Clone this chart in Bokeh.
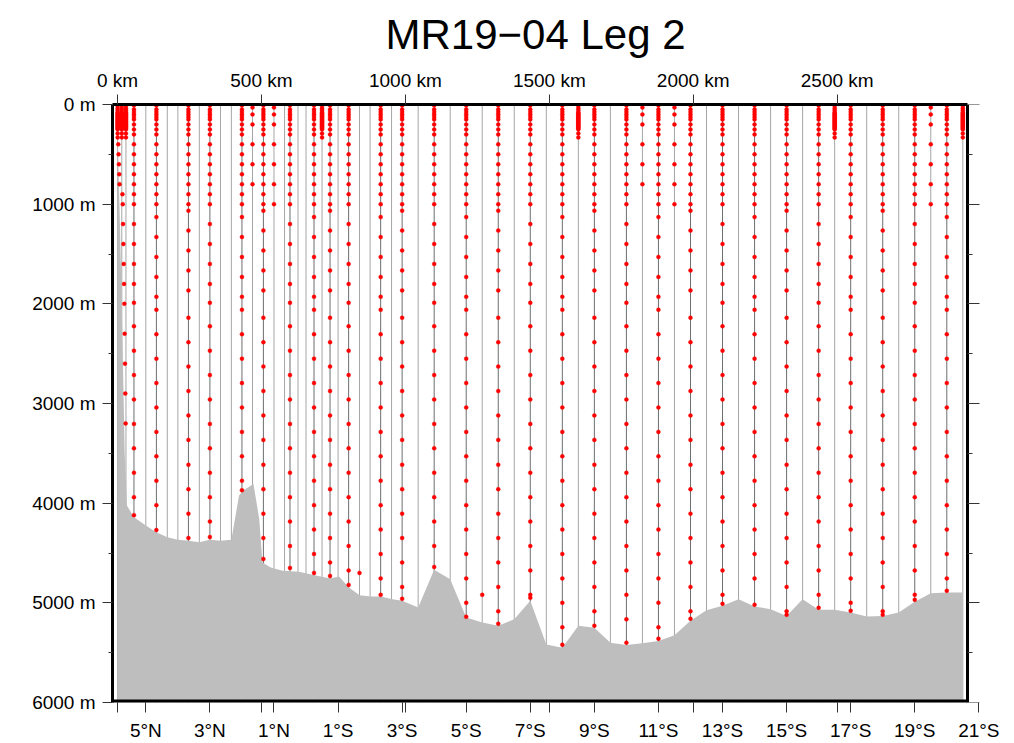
import numpy as np
from bokeh.plotting import figure
from bokeh.models import (Range1d, LinearAxis, FixedTicker, PrintfTickFormatter,
                          CustomJSTickFormatter)
from bokeh.embed import file_html
from bokeh.resources import INLINE

# ---------------- data ----------------
TITLE = "MR19\u221204 Leg 2"

# axis extents (latitude, + = N) and along-track distance mapping
LAT_LEFT, LAT_FRAME_RIGHT = 6.04, -20.64     # drawn box
LAT_CANVAS_RIGHT = -21.52                    # room for the 21°S tick past the box
LAT_AT_0KM = 5.883
KM_PER_DEG = 111.3

lat_tick_values = [5, 3, 1, -1, -3, -5, -7, -9, -11, -13, -15, -17, -19, -21]
km_tick_values = [0, 500, 1000, 1500, 2000, 2500]
depth_tick_values = [0, 1000, 2000, 3000, 4000, 5000, 6000]
depth_minor_values = [500, 1500, 2500, 3500, 4500, 5500]

# all station lines (latitude)
station_lat = [5.88, 5.75, 5.62, 5.37, 5.0, 4.67, 4.33, 4.0, 3.67, 3.33, 3.0, 2.67,
               2.33, 2.0, 1.67, 1.33, 1.0, 0.67, 0.5, 0.25, 0.0, -0.25, -0.5, -0.75,
               -1.0, -1.33, -1.67, -2.0, -2.33, -2.67, -3.0, -3.5, -4.0, -4.5, -5.0,
               -5.5, -6.0, -6.5, -7.0, -7.5, -8.0, -8.5, -9.0, -9.5, -10.0, -10.5,
               -11.0, -11.5, -12.0, -12.5, -13.0, -13.5, -14.0, -14.5, -15.0, -15.5,
               -16.0, -16.5, -17.0, -17.5, -18.0, -18.5, -19.0, -19.5, -20.0, -20.5]

# bathymetry along the section
bathy_lat = [5.88, 5.80, 5.72, 5.66, 5.59, 5.37, 5.0, 4.67, 4.33, 4.0, 3.67, 3.33,
             3.0, 2.67, 2.33, 2.09, 1.95, 1.64, 1.46, 1.36, 1.10, 0.73, 0.22, -0.27,
             -0.75, -1.03, -1.34, -1.67, -2.02, -2.33, -2.70, -3.0, -3.5, -4.0,
             -4.5, -5.0, -5.5, -6.0, -6.5, -7.0, -7.5, -8.0, -8.5, -9.0, -9.5,
             -10.0, -10.5, -11.0, -11.5, -12.0, -12.5, -13.0, -13.5, -14.0, -14.5,
             -15.0, -15.5, -16.0, -16.5, -17.0, -17.5, -18.0, -18.5, -19.0, -19.5,
             -20.0, -20.48]
bathy_depth = [300, 1300, 2500, 3490, 4024, 4142, 4225, 4293, 4342, 4366, 4376, 4393,
               4366, 4376, 4366, 3924, 3870, 3807, 4159, 4595, 4645, 4678, 4688, 4722,
               4755, 4735, 4846, 4924, 4937, 4937, 4964, 4980, 5047, 4668,
               4763, 5148, 5198, 5231, 5165, 4980, 5417, 5450, 5231, 5249, 5400,
               5423, 5406, 5382, 5326, 5181, 5075, 5030, 4964, 5037, 5064,
               5131, 4964, 5070, 5070, 5097, 5138, 5131, 5097, 4990, 4903,
               4896, 4896]

# full-depth casts: latitude, bottle-set phase, deepest bottle
full_lat = [5.37, 4.67, 3.67, 3.0, 2.0, 1.33, 0.5, -0.25, -0.75, -1.33, -2.33, -3.0,
            -4.0, -5.0, -6.0, -7.0, -8.0, -9.0, -10.0, -11.0, -12.0, -13.0, -14.0,
            -15.0, -16.0, -17.0, -18.0, -19.0, -20.0]
full_phase = ["A", "B", "C", "A", "B", "C", "A", "B", "C", "A", "B", "C",
              "A", "B", "C", "A", "B", "C", "A", "B", "C", "A", "B",
              "C", "A", "B", "C", "A", "B"]
full_bottom = [4120, 4270, 4350, 4340, 3870, 4560, 4650, 4700, 4730, 4820, 4920, 4960,
               4640, 5140, 5210, 4950, 5420, 5230, 5400, 5360, 5160, 5010, 5020,
               5120, 5050, 5080, 5120, 4970, 4880]

upper_depths = [10, 50, 75, 100, 125, 150, 200, 250, 300, 400, 500, 600, 700, 800,
                900, 1000]
deep_A = [1200, 1400, 1600, 1800, 1990, 2225, 2470, 2715, 2960, 3205, 3450, 3695,
          3940, 4185, 4430, 4675, 4920, 5165]
deep_B = [1130, 1330, 1530, 1730, 1930, 2060, 2305, 2550, 2795, 3040, 3285, 3530,
          3775, 4020, 4265, 4510, 4755, 5000, 5245]
deep_C = [1065, 1265, 1465, 1665, 1865, 2140, 2385, 2630, 2875, 3120, 3365, 3615,
          3860, 4105, 4350, 4595, 4840, 5085, 5330]

# partial casts (upper ocean only)
part_lat = [1.67, 1.0, -10.5, -11.5, -19.5]
part_maxdepth = [800, 1000, 800, 1000, 1000]
part_depths = [30, 100, 200, 400, 600, 800, 1000]

# densely sampled shallow casts
dense_lat = [5.88, 5.75, 5.62, -0.5, -8.5, -16.5, -20.5]
dense_depths = [15, 40, 60, 80, 90, 100, 110, 120, 130, 140, 150, 160, 170, 180,
                190, 200, 210, 220, 230, 240, 250, 290, 330]

# single near-bottom bottles
extra_lat = [-1.67, -5.5]
extra_depth = [4700, 4920]

# coastal slope casts below the dense part
coast_lat = [5.86, 5.85, 5.84, 5.83, 5.82, 5.73, 5.72, 5.71, 5.70, 5.69, 5.68, 5.67,
             5.66, 5.65, 5.64, 5.63]
coast_depth = [400, 500, 600, 700, 800, 900, 1000, 1200, 1400, 1600, 1800, 2000,
               2300, 2600, 2900, 3200]

# ---------------- figure ----------------
FONT = "Liberation Sans"
km_left = (LAT_AT_0KM - LAT_LEFT) * KM_PER_DEG
km_frame_right = (LAT_AT_0KM - LAT_FRAME_RIGHT) * KM_PER_DEG
km_canvas_right = (LAT_AT_0KM - LAT_CANVAS_RIGHT) * KM_PER_DEG

p = figure(width=1014, height=743, output_backend="svg", toolbar_location=None,
           x_range=Range1d(LAT_LEFT, LAT_CANVAS_RIGHT), y_range=Range1d(6000, 0),
           x_axis_location=None, y_axis_location=None,
           min_border_left=112, min_border_right=19, min_border_top=103,
           min_border_bottom=39)
p.extra_x_ranges = {"km": Range1d(km_left, km_canvas_right)}
p.grid.visible = False
p.outline_line_color = None
p.background_fill_color = "white"
p.border_fill_color = "white"

p.title.text = TITLE
p.title.text_font = FONT
p.title.text_font_size = "42px"
p.title.text_font_style = "normal"
p.title.align = "left"
p.title.offset = 273
p.title.text_color = "black"
p.title.standoff = 17


def style_axis(ax, tick_len=10, minor_len=4):
    ax.axis_line_width = 3
    ax.axis_line_color = "black"
    ax.major_tick_line_color = "#333333"
    ax.minor_tick_line_color = "#333333"
    ax.major_tick_out = tick_len
    ax.major_tick_in = 0
    ax.minor_tick_out = minor_len
    ax.minor_tick_in = 0
    ax.major_label_text_font = FONT
    ax.major_label_text_font_size = "19px"
    ax.major_label_text_font_style = "normal"
    ax.major_label_text_color = "black"
    ax.major_label_standoff = 7


left = LinearAxis(ticker=FixedTicker(ticks=depth_tick_values, minor_ticks=depth_minor_values),
                  formatter=PrintfTickFormatter(format="%d m"))
style_axis(left, 10, 4)
p.add_layout(left, "left")

right = LinearAxis(ticker=FixedTicker(ticks=depth_tick_values, minor_ticks=depth_minor_values),
                   formatter=CustomJSTickFormatter(code="return '';"),
                   fixed_location=LAT_FRAME_RIGHT)
style_axis(right, 12, 5)
p.add_layout(right, "right")

lat_fmt = "return Math.abs(tick) + '\u00b0' + (tick >= 0 ? 'N' : 'S');"
km_minor_lat = [LAT_AT_0KM - k / KM_PER_DEG for k in km_tick_values]
bottom = LinearAxis(ticker=FixedTicker(ticks=lat_tick_values, minor_ticks=km_minor_lat),
                    formatter=CustomJSTickFormatter(code=lat_fmt))
style_axis(bottom, 10, 10)
bottom.axis_line_color = None
p.add_layout(bottom, "below")

# the box's lower edge stops at the frame corner (half of the 6 px pen is clipped)
bottom_edge = LinearAxis(ticker=FixedTicker(ticks=[], minor_ticks=[]),
                         formatter=CustomJSTickFormatter(code="return '';"),
                         fixed_location=6000, bounds=(LAT_FRAME_RIGHT, LAT_LEFT))
style_axis(bottom_edge, 0, 0)
bottom_edge.axis_line_width = 6
p.add_layout(bottom_edge, "below")

top = LinearAxis(x_range_name="km", ticker=FixedTicker(ticks=km_tick_values, minor_ticks=[]),
                 formatter=PrintfTickFormatter(format="%d km"),
                 bounds=(km_left, km_frame_right))
style_axis(top, 10, 0)
top.major_label_standoff = 4
p.add_layout(top, "above")

# station lines
full_set = set(full_lat)
line_col = ["#6e6e6e" if s in full_set else "#a6a6a6" for s in station_lat]
p.segment(x0=station_lat, y0=[0] * len(station_lat), x1=station_lat,
          y1=[6000] * len(station_lat), line_color=line_col, line_width=1)

# bathymetry
p.varea(x=bathy_lat, y1=bathy_depth, y2=[6000] * len(bathy_depth),
        fill_color="#bebebe")

# bottles
px, py = [], []
phase_sets = {"A": deep_A, "B": deep_B, "C": deep_C}
for la, ph, bot in zip(full_lat, full_phase, full_bottom):
    for d in upper_depths + phase_sets[ph]:
        if d < bot - 20:
            px.append(la); py.append(d)
    px.append(la); py.append(bot)
for la, mx in zip(part_lat, part_maxdepth):
    for d in part_depths:
        if d <= mx:
            px.append(la); py.append(d)
for la in dense_lat:
    for d in dense_depths:
        px.append(la); py.append(d)
px += extra_lat; py += extra_depth
px += coast_lat; py += coast_depth

p.scatter(x=px, y=py, size=4, fill_color="#ff0000", line_color="#ff0000",
          line_width=0.4)

open("out.html", "w").write(file_html(p, INLINE))
